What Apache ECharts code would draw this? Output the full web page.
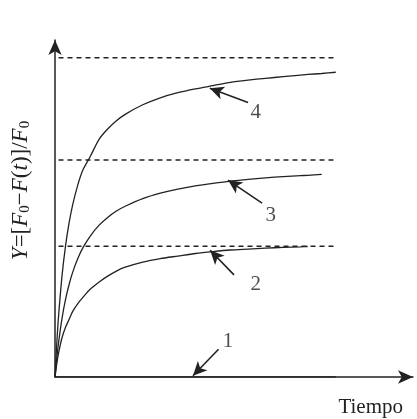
<!DOCTYPE html>
<html>
<head>
<meta charset="utf-8">
<script src="https://cdn.jsdelivr.net/npm/echarts@6/dist/echarts.min.js"></script>
<style>
  html, body { margin: 0; padding: 0; background: #fff; }
  #chart { width: 417px; height: 419px; }
</style>
</head>
<body>
<div id="chart"></div>
<script>
// Time samples (arbitrary units) for each curve
const tCurves = [0, 0.05, 0.1, 0.2, 0.3, 0.4, 0.5, 0.65, 0.8, 1, 1.25, 1.5, 1.75, 2, 2.5, 3, 3.5, 4, 4.5, 5, 5.5, 6, 6.5, 7, 7.2, 7.6, 8];

// Y = [F0 - F(t)] / F0 for curves 1..4 (null = past the end of the drawn curve)
const curve1 = [0, 0, 0, 0, 0, 0, 0, 0, 0, 0, 0, 0, 0, 0, 0, 0, 0, 0, 0, 0, 0, 0, 0, 0, 0, 0, 0];
const curve2 = [0, 0.041, 0.074, 0.123, 0.156, 0.18, 0.205, 0.23, 0.25, 0.275, 0.297, 0.316, 0.332, 0.344, 0.36, 0.371, 0.379, 0.387, 0.393, 0.398, 0.401, 0.404, 0.406, 0.408, 0.409, null, null];
const curve3 = [0, 0.058, 0.106, 0.184, 0.243, 0.289, 0.327, 0.371, 0.406, 0.441, 0.475, 0.5, 0.52, 0.535, 0.559, 0.576, 0.589, 0.599, 0.607, 0.614, 0.619, 0.624, 0.628, 0.631, 0.632, 0.635, null];
const curve4 = [0, 0.104, 0.189, 0.317, 0.411, 0.482, 0.538, 0.602, 0.65, 0.69, 0.744, 0.777, 0.803, 0.823, 0.853, 0.875, 0.891, 0.903, 0.913, 0.923, 0.93, 0.936, 0.941, 0.946, 0.948, 0.951, 0.955];

// Saturation levels (dashed asymptotes) and their extent along time
const asymptotes = [0.41, 0.68, 1.0];
const asymptoteSpan = [0.1, 8.0];

// Callout arrows: [tail, head] in data units, and the numbers next to them
const arrowLines = [
  [[4.66, 0.087], [3.93, 0.004]],
  [[5.1, 0.32], [4.42, 0.397]],
  [[5.9, 0.545], [4.93, 0.617]],
  [[5.5, 0.86], [4.41, 0.905]]
];
const arrowLabels = [
  [4.93, 0.11, '1'],
  [5.72, 0.29, '2'],
  [6.15, 0.505, '3'],
  [5.72, 0.83, '4']
];

const xMax = 10.2;
const yMax = 1.056;
const ink = '#222';
const serif = '"Liberation Serif", "DejaVu Serif", serif';

const pairs = (ys) => tCurves.map((t, i) => ys[i] === null ? null : [t, ys[i]]).filter(p => p);

const curveSeries = [curve1, curve2, curve3, curve4].map((ys, k) => ({
  name: 'curve' + (k + 1),
  type: 'line',
  data: pairs(ys),
  smooth: 0.25,
  showSymbol: false,
  lineStyle: { color: ink, width: 1.3 },
  z: 3
}));

const dashedSeries = asymptotes.map((y, k) => ({
  name: 'level' + (k + 1),
  type: 'line',
  data: [[asymptoteSpan[0], y], [asymptoteSpan[1], y]],
  showSymbol: false,
  lineStyle: { color: ink, width: 1.5, type: [5, 4] },
  z: 2
}));

const arrowSeries = {
  name: 'arrows',
  type: 'line',
  data: [],
  markLine: {
    silent: true,
    symbol: ['none', 'arrow'],
    symbolSize: [10, 14],
    label: { show: false },
    lineStyle: { color: ink, width: 1.6, type: 'solid' },
    data: arrowLines.map(([a, b]) => [{ coord: a }, { coord: b }])
  }
};

const labelSeries = {
  name: 'numbers',
  type: 'scatter',
  symbolSize: 0,
  data: arrowLabels.map(([x, y, s]) => ({ value: [x, y], name: s })),
  label: {
    show: true,
    position: 'inside',
    formatter: p => p.name,
    fontFamily: serif,
    fontSize: 21,
    color: ink
  },
  z: 5
};

const chart = echarts.init(document.getElementById('chart'));
chart.setOption({
  animation: false,
  backgroundColor: '#fff',
  grid: { left: 55, right: 4, top: 40, bottom: 42, containLabel: false },
  xAxis: {
    type: 'value',
    min: 0,
    max: xMax,
    axisLine: { show: true, symbol: ['none', 'arrow'], symbolSize: [10, 15], lineStyle: { color: ink, width: 1.5 } },
    axisTick: { show: false },
    axisLabel: { show: false },
    splitLine: { show: false },
    name: 'Tiempo',
    nameLocation: 'end',
    nameGap: -10,
    nameTextStyle: {
      fontFamily: serif, fontSize: 21, color: ink,
      align: 'right', verticalAlign: 'top', padding: [20, 0, 0, 0]
    }
  },
  yAxis: {
    type: 'value',
    min: 0,
    max: yMax,
    axisLine: { show: true, symbol: ['none', 'arrow'], symbolSize: [10, 15], lineStyle: { color: ink, width: 1.5 } },
    axisTick: { show: false },
    axisLabel: { show: false },
    splitLine: { show: false },
    name: '{i|Y}=[{i|F}{s|0}\u2212{i|F}({i|t})]/{i|F}{s|0}',
    nameLocation: 'middle',
    nameRotate: 90,
    nameGap: 22,
    nameTextStyle: {
      fontFamily: serif, fontSize: 23, color: ink,
      padding: [0, 0, 0, 36],
      rich: {
        i: { fontFamily: serif, fontSize: 23, fontStyle: 'italic', color: ink },
        s: { fontFamily: serif, fontSize: 15, color: ink, padding: [10, 0, 0, 0] }
      }
    }
  },
  series: [...dashedSeries, ...curveSeries, arrowSeries, labelSeries]
});
</script>
</body>
</html>
